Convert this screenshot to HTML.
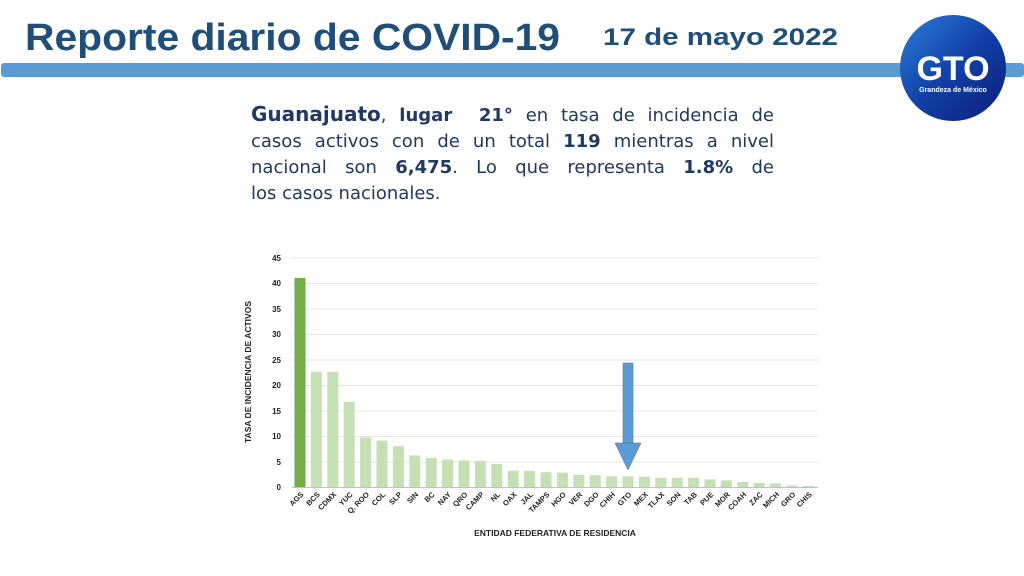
<!DOCTYPE html>
<html><head><meta charset="utf-8"><style>
html,body{margin:0;padding:0;background:#fff;}
body{width:1024px;height:576px;overflow:hidden;position:relative;font-family:"Liberation Sans",sans-serif;}
.para{position:absolute;left:251px;top:101px;width:523px;font-family:"DejaVu Sans",sans-serif;font-size:18px;line-height:26px;color:#1f3864;}
.para div{text-align:justify;text-align-last:justify;white-space:nowrap;}
.para div.l{text-align-last:left;}
.para b{font-weight:bold;}
</style></head><body>
<svg width="1024" height="576" style="position:absolute;left:0;top:0">
<defs>
<linearGradient id="lg" x1="0" y1="0" x2="1" y2="1"><stop offset="0" stop-color="#2a7fd8"/><stop offset="0.5" stop-color="#1240a8"/><stop offset="1" stop-color="#0c1f78"/></linearGradient>
</defs>
<text x="25" y="50" font-family="Liberation Sans" font-weight="bold" font-size="38" fill="#1f4e79" textLength="535" lengthAdjust="spacingAndGlyphs">Reporte diario de COVID-19</text>
<text x="603" y="45" font-family="Liberation Sans" font-weight="bold" font-size="24" fill="#1f4e79" textLength="235" lengthAdjust="spacingAndGlyphs">17 de mayo 2022</text>
<rect x="1" y="63" width="1023" height="14" rx="3" fill="#5b9bd5"/>
<circle cx="953" cy="68" r="53" fill="url(#lg)"/>
<text x="953" y="80" text-anchor="middle" font-family="Liberation Sans" font-weight="bold" font-size="34" fill="#fff">GTO</text>
<text x="953" y="92" text-anchor="middle" font-family="Liberation Sans" font-weight="bold" font-size="7" fill="#fff">Grandeza de México</text>
<g font-family="Liberation Sans" font-weight="bold" font-size="8" fill="#222">
<g stroke="#e4e4e4" stroke-width="1">
<line x1="292" y1="258" x2="818" y2="258"/><line x1="292" y1="283.5" x2="818" y2="283.5"/><line x1="292" y1="309" x2="818" y2="309"/><line x1="292" y1="334.5" x2="818" y2="334.5"/><line x1="292" y1="360" x2="818" y2="360"/><line x1="292" y1="385.5" x2="818" y2="385.5"/><line x1="292" y1="411" x2="818" y2="411"/><line x1="292" y1="436.5" x2="818" y2="436.5"/><line x1="292" y1="462" x2="818" y2="462"/>
</g>
<line x1="292" y1="487.5" x2="818" y2="487.5" stroke="#a9c4e4" stroke-width="1"/>
<g text-anchor="end">
<text x="281" y="261">45</text><text x="281" y="286">40</text><text x="281" y="312">35</text><text x="281" y="337">30</text><text x="281" y="363">25</text><text x="281" y="388">20</text><text x="281" y="414">15</text><text x="281" y="439">10</text><text x="281" y="465">5</text><text x="281" y="490">0</text>
</g>
<text transform="translate(251,372) rotate(-90)" text-anchor="middle" font-size="8.5">TASA DE INCIDENCIA DE ACTIVOS</text>
<text x="555" y="536" text-anchor="middle" font-size="8.5">ENTIDAD FEDERATIVA DE RESIDENCIA</text>
<g id="bars"></g>
</g>
<rect x="623" y="363" width="10" height="80" fill="#5b9bd5" stroke="#41719c" stroke-width="0.5"/>
<polygon points="615,443 641,443 628,470" fill="#5b9bd5" stroke="#41719c" stroke-width="0.5"/>
</svg>
<div class="para">
<div><b style="font-size:20px">Guanajuato</b>, <b>lugar &nbsp;21°</b> en tasa de incidencia de</div>
<div>casos activos con de un total <b>119</b> mientras a nivel</div>
<div>nacional son <b>6,475</b>. Lo que representa <b>1.8%</b> de</div>
<div class="l">los casos nacionales.</div>
</div>
<script>
var n=["AGS","BCS","CDMX","YUC","Q. ROO","COL","SLP","SIN","BC","NAY","QRO","CAMP","NL","OAX","JAL","TAMPS","HGO","VER","DGO","CHIH","GTO","MEX","TLAX","SON","TAB","PUE","MOR","COAH","ZAC","MICH","GRO","CHIS"];
var v=[41,22.6,22.6,16.7,9.7,9.1,8,6.2,5.7,5.4,5.2,5.1,4.5,3.2,3.2,2.9,2.8,2.4,2.3,2.1,2.1,2.0,1.8,1.8,1.8,1.5,1.3,1.0,0.8,0.7,0.3,0.2];
var g=document.getElementById("bars"),s="";
for(var i=0;i<32;i++){var cx=300+i*16.4,h=v[i]*5.1;
s+='<rect x="'+(cx-5.5)+'" y="'+(487-h)+'" width="11" height="'+h+'" fill="'+(i==0?'#70ad47':'#c5e0b4')+'"/>';
s+='<text transform="translate('+(cx+4)+',495) rotate(-45)" text-anchor="end" font-size="7.5">'+n[i]+'</text>';}
g.innerHTML=s;
</script>
</body></html>
